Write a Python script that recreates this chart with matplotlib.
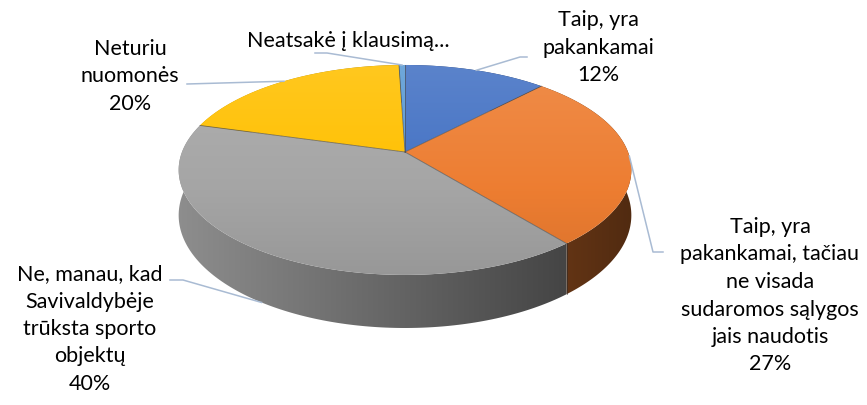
import matplotlib
matplotlib.use('Agg')
import matplotlib.pyplot as plt
import matplotlib.colors as mcolors
from matplotlib.patches import Polygon
import numpy as np

plt.rcParams['font.family'] = ['Lato', 'DejaVu Sans']

# ── data ─────────────────────────────────────────────────────────────────────
categories = [
    ['Taip, yra', 'pakankamai'],
    ['Taip, yra', 'pakankamai, tačiau', 'ne visada', 'sudaromos sąlygos', 'jais naudotis'],
    ['Ne, manau, kad', 'Savivaldybėje', 'trūksta sporto', 'objektų'],
    ['Neturiu', 'nuomonės'],
    ['Neatsakė į klausimą...'],
]
values = [12, 27, 40, 20, 0.5]
show_pct = [True, True, True, True, False]
colors = ['#4472C4', '#ED7D31', '#A5A5A5', '#FFC000', '#5B9BD5']

# label layout: centre x, first baseline y, elbow points of leader line,
# leader anchor on top rim (0) or bottom rim (1)
label_xy = [(598, 26), (770, 233), (90, 280), (130, 55), (348, 47)]
leader_elbow = [
    [(527, 57), (520, 57)],
    [(663, 252), (653, 252)],
    [(170, 280), (183, 280)],
    [(187, 84)],
    [(315, 53), (327, 53)],
]
leader_z = [0, 0, 1, 0, 0]
LINE_STEP = 27.5
LEADER_COLOR = '#A9BBD3'

# ── 3D pie geometry (pixel space) ────────────────────────────────────────────
CX, CY = 405, 152
A, B, K, H = 223, 101.9, 0.171, 44


def proj(theta, r=1.0, z=0.0):
    """theta: degrees clockwise from 12 o'clock; z=1 is bottom of the disc."""
    t = np.radians(theta)
    u, v = r * np.sin(t), r * np.cos(t)
    w = 1 + K * v
    return CX + A * u / w, CY - B * v / w + H * z / w


def shade(color, f):
    rgb = np.array(mcolors.to_rgb(color))
    if f >= 1:
        return tuple(rgb + (1 - rgb) * (f - 1))
    return tuple(rgb * f)


fig = plt.figure(figsize=(8.67, 4.05), dpi=100)
ax = fig.add_axes([0, 0, 1, 1])
ax.axis('off')

total = sum(values)
bounds = np.concatenate([[0], np.cumsum(values)]) / total * 360
XL, XR = 175, 635

# sides: one band per slice, horizontal gradient, far bands first
depth = [np.cos(np.radians((bounds[i] + bounds[i + 1]) / 2)) for i in range(len(values))]
for i in np.argsort(depth)[::-1]:
    c = colors[i]
    ts = np.linspace(bounds[i], bounds[i + 1], max(4, int(values[i] * 6)))
    pts = [proj(t) for t in ts] + [proj(t, z=1) for t in ts[::-1]]
    band = Polygon(pts, closed=True, facecolor='none', edgecolor='none', zorder=1)
    ax.add_patch(band)
    grad = np.array([shade(c, f) for f in np.linspace(0.86, 0.34, 128)])
    img = ax.imshow(grad[None, :, :], extent=(XL, XR, 340, 60),
                    aspect='auto', interpolation='bilinear', zorder=1)
    img.set_clip_path(band)

# tops with vertical gradient
ytop, ybot = proj(0)[1], proj(180)[1]
for i, c in enumerate(colors):
    ts = np.linspace(bounds[i], bounds[i + 1], max(3, int(values[i] * 6)))
    pts = [proj(0, r=0)] + [proj(t) for t in ts]
    poly = Polygon(pts, closed=True, facecolor='none', edgecolor='none', zorder=3)
    ax.add_patch(poly)
    grad = np.array([shade(c, f) for f in np.linspace(1.12, 0.92, 64)])
    img = ax.imshow(grad[:, None, :], extent=(XL, XR, ybot, ytop),
                    aspect='auto', interpolation='bilinear', zorder=2)
    img.set_clip_path(poly)

# thin dark seams between slices (top radii and visible side edges)
for b in bounds[:-1]:
    xs, ys = zip(proj(0, r=0), proj(b))
    ax.plot(xs, ys, color='#4a4a4a', linewidth=0.6, alpha=0.7, zorder=3)
    if np.cos(np.radians(b)) < -0.1:
        xs, ys = zip(proj(b), proj(b, z=1))
        ax.plot(xs, ys, color='#2a2a2a', linewidth=0.6, alpha=0.6, zorder=3)

ax.set_xlim(0, 867)
ax.set_ylim(405, 0)

# labels and leader lines
for i in range(len(values)):
    lines = list(categories[i])
    if show_pct[i]:
        lines.append(f'{values[i] / total * 100:.0f}%')
    x0, y0 = label_xy[i]
    for j, s in enumerate(lines):
        ax.text(x0, y0 + j * LINE_STEP, s, ha='center', va='baseline',
                fontsize=15.5, color='#000000', zorder=5)
    mid = (bounds[i] + bounds[i + 1]) / 2
    path = leader_elbow[i] + [proj(mid, z=leader_z[i])]
    xs, ys = zip(*path)
    ax.plot(xs, ys, color=LEADER_COLOR, linewidth=1.1, zorder=4)

fig.savefig('out.png', dpi=100)
